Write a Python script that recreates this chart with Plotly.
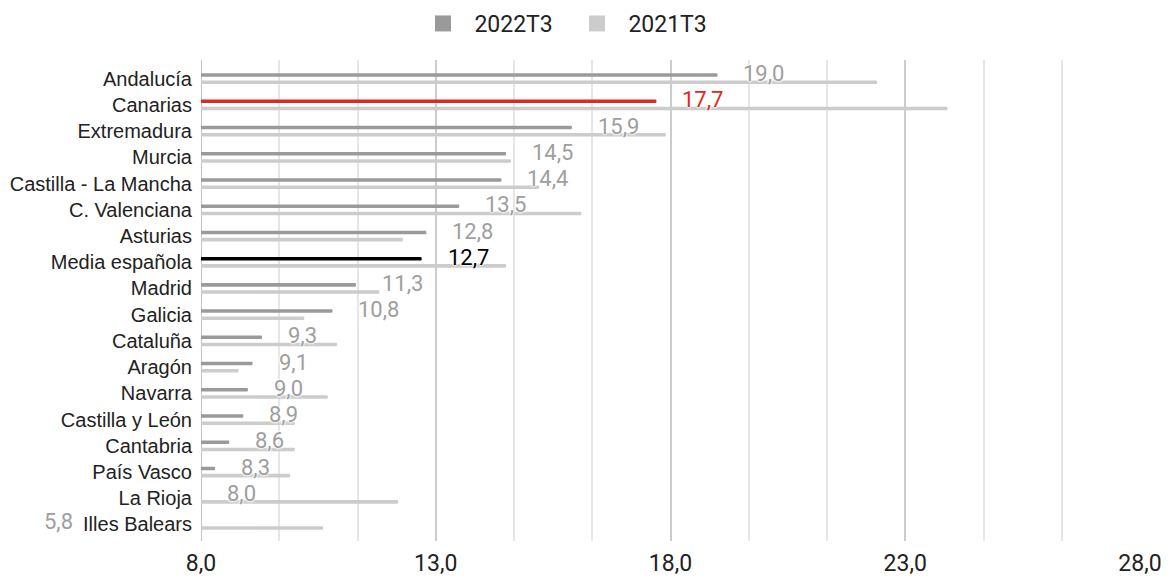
import plotly.graph_objects as go

categories = ["Andalucía", "Canarias", "Extremadura", "Murcia", "Castilla - La Mancha",
              "C. Valenciana", "Asturias", "Media española", "Madrid", "Galicia",
              "Cataluña", "Aragón", "Navarra", "Castilla y León", "Cantabria",
              "País Vasco", "La Rioja", "Illes Balears"]
v2022 = [19.0, 17.7, 15.9, 14.5, 14.4, 13.5, 12.8, 12.7, 11.3, 10.8,
         9.3, 9.1, 9.0, 8.9, 8.6, 8.3, 8.0, 5.8]
v2021 = [22.4, 23.9, 17.9, 14.6, 15.2, 16.1, 12.3, 14.5, 11.8, 10.2,
         10.9, 8.8, 10.7, 10.0, 10.0, 9.9, 12.2, 10.6]
series_names = ["2022T3", "2021T3"]
x_ticks = [8, 13, 18, 23, 28]

GRAY_DARK = "#9a9a9a"
GRAY_LIGHT = "#cccccc"
RED = "#dc2a22"
BLACK = "#000000"
LABEL_GRAY = "#9e9e9e"

highlight = {"Canarias": (RED, RED), "Media española": (BLACK, BLACK)}
bar_colors = [highlight.get(c, (GRAY_DARK, LABEL_GRAY))[0] for c in categories]
label_colors = [highlight.get(c, (GRAY_DARK, LABEL_GRAY))[1] for c in categories]

XMIN, XMAX = x_ticks[0], x_ticks[-1]
W = 0.135

FIG_W, FIG_H = 1163, 570  # page adds an 8px body margin

fig = go.Figure()
fig.add_trace(go.Bar(
    y=categories, x=v2022, orientation="h", name=series_names[0],
    marker=dict(color=bar_colors, cornerradius=2, line=dict(width=0)),
    width=W, offset=-0.205, showlegend=False, hoverinfo="x+y",
))
fig.add_trace(go.Bar(
    y=categories, x=v2021, orientation="h", name=series_names[1],
    marker=dict(color=GRAY_LIGHT, cornerradius=2, line=dict(width=0)),
    width=W, offset=0.07, showlegend=False, hoverinfo="x+y",
))
# legend entries
for nm, col in zip(series_names, [GRAY_DARK, GRAY_LIGHT]):
    fig.add_trace(go.Scatter(x=[None], y=[None], mode="markers",
                             name="\u00a0\u00a0" + nm,
                             marker=dict(symbol="square", size=16, color=col)))

halo = "0 0 2px #fff, 0 0 2px #fff, 0 0 3px #fff, 0 0 3px #fff"
annotations = []
for cat, v, col in zip(categories, v2022, label_colors):
    txt = f"{v:.1f}".replace(".", ",")
    if v >= XMIN:
        annotations.append(dict(x=v, y=cat, xref="x", yref="y", text=txt,
                                showarrow=False, xanchor="left", yanchor="middle",
                                xshift=24, yshift=5,
                                font=dict(family="Roboto", size=22, color=col, shadow=halo)))
    else:
        annotations.append(dict(x=XMIN, y=cat, xref="x", yref="y", text=txt,
                                showarrow=False, xanchor="right", yanchor="middle",
                                xshift=-126, yshift=3,
                                font=dict(family="Roboto", size=22, color=col)))

fig.update_layout(
    width=FIG_W, height=FIG_H,
    margin=dict(l=193, r=31, t=52, b=37, autoexpand=False),
    paper_bgcolor="white", plot_bgcolor="white",
    barmode="overlay",
    separators=",.",
    annotations=annotations,
    legend=dict(orientation="h", xref="container", yref="container",
                x=415 / FIG_W, xanchor="left", y=1 - 15.5 / FIG_H, yanchor="middle",
                entrywidth=109, entrywidthmode="pixels",
                font=dict(family="Roboto", size=23, color="#222222"),
                itemclick=False, itemdoubleclick=False),
    xaxis=dict(range=[XMIN, XMAX], tickvals=x_ticks, tickformat=".1f",
               showgrid=True, gridcolor="#cccccc", gridwidth=1.5,
               minor=dict(dtick=5 / 3, tick0=XMIN, showgrid=True,
                          gridcolor="#e6e6e6", gridwidth=1.5),
               zeroline=False, showline=False, ticks="", ticklabelstandoff=6,
               tickfont=dict(family="Roboto", size=23, color="#222222"),
               automargin=False, fixedrange=True),
    yaxis=dict(type="category", categoryorder="array", categoryarray=categories,
               range=[17.63, -0.713], showgrid=False, zeroline=False,
               showline=False, ticks="", ticklabelstandoff=8,
               tickfont=dict(family="Liberation Sans", size=20, color="#222222"),
               automargin=False, fixedrange=True),
)
fig.add_vline(x=XMIN, line=dict(color="#c4c4c4", width=2), layer="below")

fig.write_html("out.html")
